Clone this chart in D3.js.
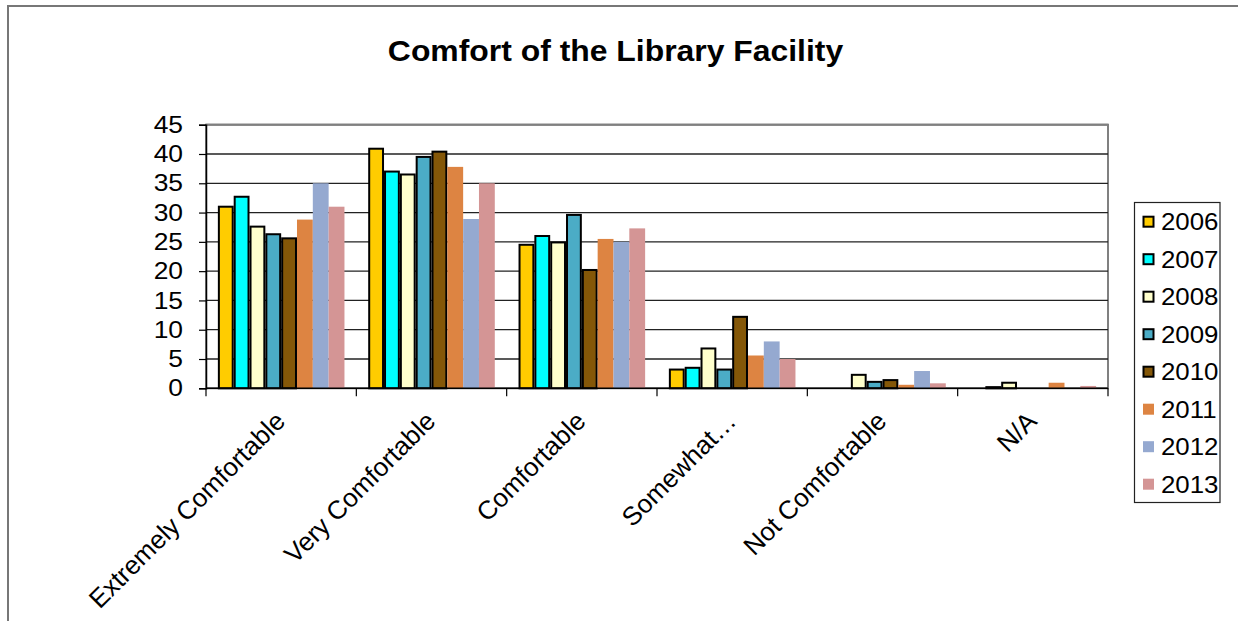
<!DOCTYPE html>
<html>
<head>
<meta charset="utf-8">
<script src="https://cdn.jsdelivr.net/npm/d3@7"></script>
<style>
  html, body { margin: 0; padding: 0; background: #fff; }
  svg { display: block; font-family: "Liberation Sans", Arial, sans-serif; }
</style>
</head>
<body>
<svg id="chart" width="1238" height="621"></svg>
<script>
const categories = ["Extremely Comfortable", "Very Comfortable", "Comfortable", "Somewhat…", "Not Comfortable", "N/A"];
const years = ["2006", "2007", "2008", "2009", "2010", "2011", "2012", "2013"];
const v2006 = [31.0, 40.9, 24.5, 3.2, 0, 0];
const v2007 = [32.7, 37.0, 26.0, 3.5, 0, 0.2];
const v2008 = [27.6, 36.5, 24.9, 6.8, 2.3, 0.95];
const v2009 = [26.3, 39.5, 29.6, 3.2, 1.1, 0];
const v2010 = [25.6, 40.4, 20.2, 12.2, 1.4, 0];
const v2011 = [28.8, 37.8, 25.5, 5.6, 0.6, 0.95];
const v2012 = [35.0, 28.9, 25.0, 8.0, 2.95, 0];
const v2013 = [31.0, 35.0, 27.3, 5.0, 0.85, 0.4];
const seriesValues = [v2006, v2007, v2008, v2009, v2010, v2011, v2012, v2013];
const yTicks = [0, 5, 10, 15, 20, 25, 30, 35, 40, 45];
const title = "Comfort of the Library Facility";

const colors = ["#FFCC00", "#00FFFF", "#FFFFCC", "#4BACC6", "#845708", "#DD8442", "#95A9D0", "#D49595"];
const bordered = [true, true, true, true, true, false, false, false];
const SX = 1.1; // horizontal text stretch seen in the reference

const svg = d3.select("#chart");

// outer chart border
svg.append("rect").attr("x", 8).attr("y", 6).attr("width", 1240).attr("height", 630)
  .attr("fill", "#fff").attr("stroke", "#777").attr("stroke-width", 2);

const pLeft = 206, pRight = 1108, pTop = 124.7, pBottom = 388.3;
const x0 = d3.scaleBand().domain(categories).range([pLeft, pRight]).padding(0);
const x1 = d3.scaleBand().domain(years).range([0, x0.bandwidth()]).paddingInner(0).paddingOuter(0.75);
const y = d3.scaleLinear().domain([0, 45]).range([pBottom, pTop]);

// plot area border
svg.append("rect").attr("x", pLeft).attr("y", pTop).attr("width", pRight - pLeft).attr("height", pBottom - pTop)
  .attr("fill", "none").attr("stroke", "#808080").attr("stroke-width", 2);

// gridlines
svg.append("g").selectAll("line").data(yTicks.filter(d => d > 0)).join("line")
  .attr("x1", pLeft).attr("x2", pRight)
  .attr("y1", d => y(d)).attr("y2", d => y(d))
  .attr("stroke", d => d === 45 ? "#808080" : "#222").attr("stroke-width", d => d === 45 ? 2 : 1.3);

// bars
const groups = svg.append("g").selectAll("g").data(categories).join("g")
  .attr("transform", c => `translate(${x0(c)},0)`);
groups.selectAll("rect").data((c, ci) => years.map((yr, si) => ({ yr, si, v: seriesValues[si][ci] })))
  .join("rect")
  .filter(d => d.v > 0)
  .attr("x", d => x1(d.yr) + (bordered[d.si] ? 1 : 0))
  .attr("width", d => x1.bandwidth() - (bordered[d.si] ? 2 : 0))
  .attr("y", d => y(d.v))
  .attr("height", d => y(0) - y(d.v))
  .attr("fill", d => colors[d.si])
  .attr("stroke", d => bordered[d.si] ? "#000" : "none")
  .attr("stroke-width", 2);

// y axis
const yAxis = d3.axisLeft(y).tickValues(yTicks).tickSize(7).tickPadding(16);
const gy = svg.append("g").attr("transform", `translate(${pLeft},0)`).call(yAxis);
gy.select(".domain").attr("stroke", "#000").attr("stroke-width", 1.5);
gy.selectAll(".tick line").attr("stroke", "#000").attr("stroke-width", 1.2);
gy.selectAll(".tick text").attr("font-size", 24).attr("fill", "#000")
  .attr("font-family", "Liberation Sans, Arial, sans-serif")
  .attr("x", 0)
  .attr("transform", `translate(-23,0) scale(${SX},1)`);

// x axis line and ticks at category boundaries
svg.append("line").attr("x1", pLeft).attr("x2", pRight).attr("y1", pBottom).attr("y2", pBottom)
  .attr("stroke", "#000").attr("stroke-width", 1.5);
const boundaries = categories.map(c => x0(c)).concat([pRight]);
svg.append("g").selectAll("line").data(boundaries).join("line")
  .attr("x1", d => d).attr("x2", d => d).attr("y1", pBottom).attr("y2", pBottom + 8)
  .attr("stroke", "#000").attr("stroke-width", 1.2);

// x labels
svg.append("g").selectAll("text").data(categories).join("text")
  .attr("transform", c => `translate(${x0(c) + x0.bandwidth() / 2 + 5.5},${pBottom + 34.5}) rotate(-45)`)
  .attr("text-anchor", "end")
  .attr("font-size", 26)
  .attr("fill", "#000")
  .text(c => c);

// title
svg.append("text").attr("transform", `translate(615.5,60.5) scale(${SX},1)`).attr("text-anchor", "middle")
  .attr("font-size", 29).attr("font-weight", "bold").attr("fill", "#000").text(title);

// legend
const lg = svg.append("g");
lg.append("rect").attr("x", 1134.5).attr("y", 202.5).attr("width", 85.5).attr("height", 300)
  .attr("fill", "#fff").attr("stroke", "#222").attr("stroke-width", 1.2);
const items = lg.selectAll("g.item").data(years).join("g").attr("class", "item")
  .attr("transform", (d, i) => `translate(0,${221.7 + i * 37.5})`);
items.append("rect")
  .attr("x", (d, i) => bordered[i] ? 1143.5 : 1143)
  .attr("y", (d, i) => bordered[i] ? -5 : -5.5)
  .attr("width", (d, i) => bordered[i] ? 10 : 11)
  .attr("height", (d, i) => bordered[i] ? 10 : 11)
  .attr("fill", (d, i) => colors[i])
  .attr("stroke", (d, i) => bordered[i] ? "#000" : "none")
  .attr("stroke-width", 2);
items.append("text").attr("transform", `translate(1161,8.5) scale(${SX},1)`)
  .attr("font-size", 23.5).attr("fill", "#000").text(d => d);
</script>
</body>
</html>
